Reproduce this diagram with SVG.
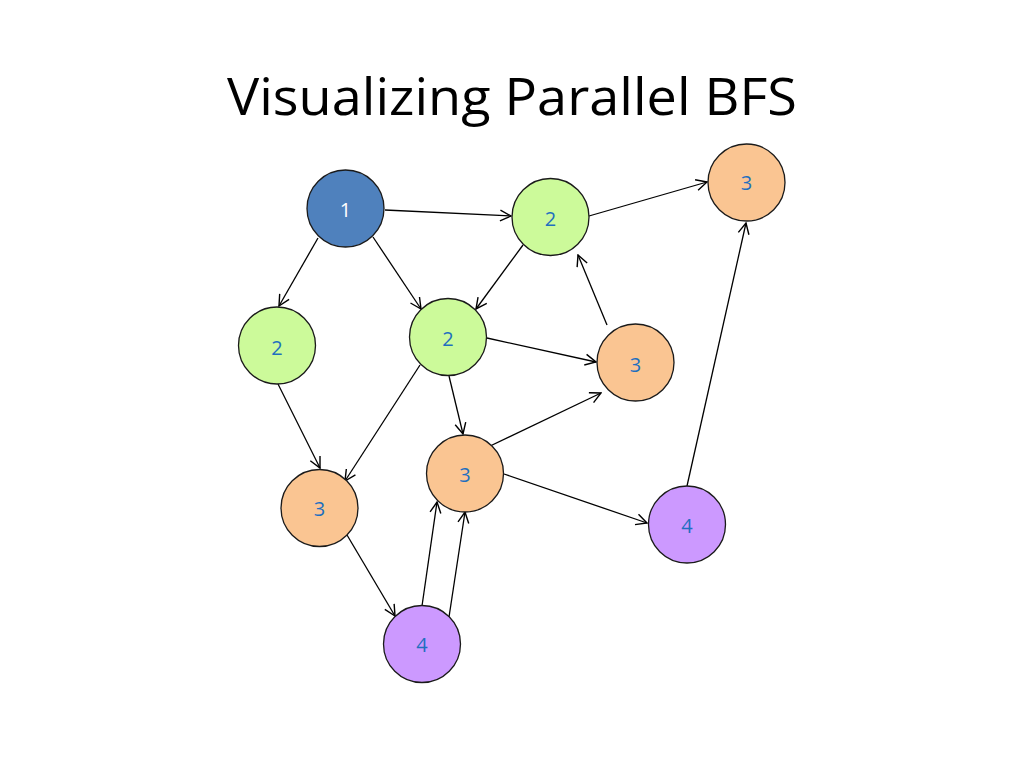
<svg xmlns="http://www.w3.org/2000/svg" width="1024" height="768" viewBox="0 0 1024 768">
<style>
.title{font-family:"Open Sans","Liberation Sans",sans-serif;font-size:52px;fill:#000}
.node circle{stroke:#1a1a1a;stroke-width:1.3}
.lbl{font-family:"Open Sans","Liberation Sans",sans-serif;font-size:20px;fill:#1f6fbf;text-anchor:middle;dominant-baseline:central}
.blue{fill:#4f81bd}.green{fill:#ccfa9a}.orange{fill:#fac592}.purple{fill:#cc99ff}
#connectors line{stroke:#000;stroke-width:1.3;marker-end:url(#arr)}
</style>
<defs>
<marker id="arr" viewBox="0 0 12 12" refX="11" refY="6" markerWidth="13" markerHeight="13" markerUnits="userSpaceOnUse" orient="auto">
<path d="M1,1 L11,6 L1,11" fill="none" stroke="#000" stroke-width="1.3"/>
</marker>
</defs>
<rect width="1024" height="768" fill="#fff"/>
<text class="title" x="512" y="115" text-anchor="middle" textLength="570" lengthAdjust="spacingAndGlyphs">Visualizing Parallel BFS</text>
<g id="connectors">
<line x1="385" y1="210" x2="511" y2="216"/>
<line x1="589" y1="216" x2="707" y2="182"/>
<line x1="318" y1="238" x2="279" y2="306"/>
<line x1="373" y1="237" x2="421" y2="309"/>
<line x1="523" y1="245" x2="476" y2="309"/>
<line x1="607" y1="325" x2="578" y2="255"/>
<line x1="487" y1="338" x2="596" y2="362"/>
<line x1="420" y1="365" x2="345" y2="481"/>
<line x1="449" y1="376" x2="463" y2="434"/>
<line x1="486" y1="448" x2="601" y2="393"/>
<line x1="278" y1="384" x2="320" y2="468"/>
<line x1="504" y1="474" x2="647" y2="523"/>
<line x1="687" y1="486" x2="746" y2="223"/>
<line x1="347" y1="535" x2="395" y2="616"/>
<line x1="422" y1="606" x2="437" y2="502"/>
<line x1="449" y1="617" x2="465" y2="512"/>
</g>
<g id="n1" class="node"><circle class="blue" cx="345.5" cy="208.5" r="38.5"/><text class="lbl" x="345.5" y="209" style="fill:#fff">1</text></g>
<g id="n2a" class="node"><circle class="green" cx="550.5" cy="217" r="38.5"/><text class="lbl" x="550.5" y="218">2</text></g>
<g id="n3a" class="node"><circle class="orange" cx="746.5" cy="182.5" r="38.5"/><text class="lbl" x="746.5" y="182">3</text></g>
<g id="n2b" class="node"><circle class="green" cx="277" cy="345.5" r="38.5"/><text class="lbl" x="277" y="347">2</text></g>
<g id="n2c" class="node"><circle class="green" cx="448" cy="337" r="38.5"/><text class="lbl" x="448" y="338">2</text></g>
<g id="n3b" class="node"><circle class="orange" cx="635.5" cy="362.5" r="38.5"/><text class="lbl" x="635.5" y="364">3</text></g>
<g id="n3c" class="node"><circle class="orange" cx="319.5" cy="508" r="38.5"/><text class="lbl" x="319.5" y="508">3</text></g>
<g id="n3d" class="node"><circle class="orange" cx="465" cy="473.5" r="38.5"/><text class="lbl" x="465" y="474">3</text></g>
<g id="n4a" class="node"><circle class="purple" cx="687" cy="524.5" r="38.5"/><text class="lbl" x="687" y="525">4</text></g>
<g id="n4b" class="node"><circle class="purple" cx="422" cy="644" r="38.5"/><text class="lbl" x="422" y="644">4</text></g>
</svg>
